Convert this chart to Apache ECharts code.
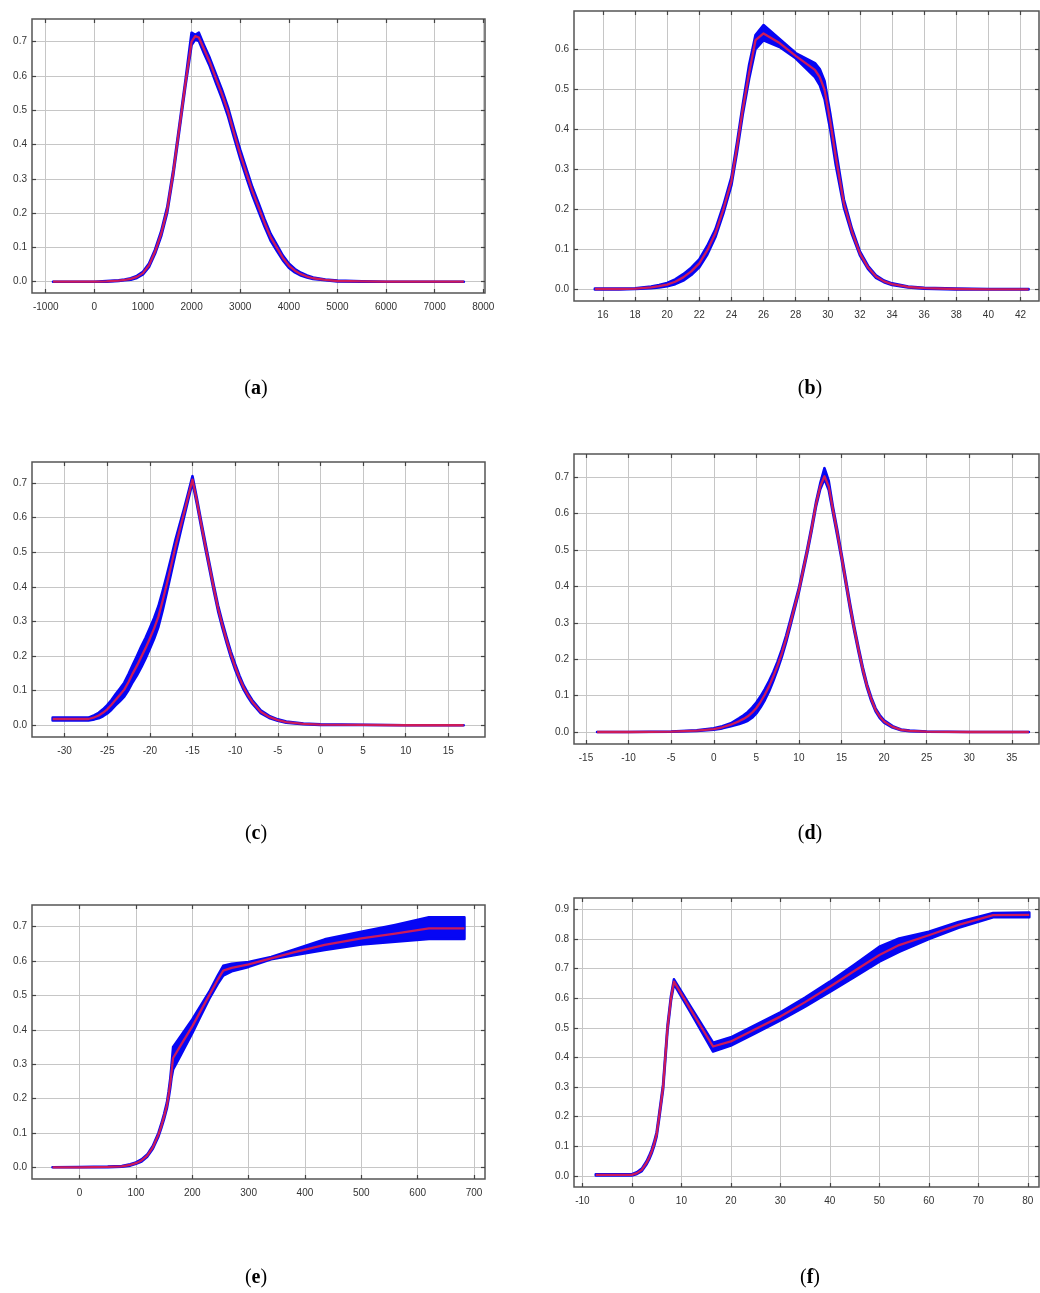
<!DOCTYPE html>
<html>
<head>
<meta charset="utf-8">
<script src="https://cdn.jsdelivr.net/npm/echarts@6/dist/echarts.min.js"></script>
<style>
html,body{margin:0;padding:0;background:#fff;}
#chart{width:1040px;height:1293px;}
</style>
</head>
<body>
<div id="chart"></div>
<script>
// ---------------- DATA ----------------
// (a)
const A_X    = [-850, -500, 0, 250, 500, 625, 750, 875, 1000, 1125, 1250, 1375, 1500, 1625, 1750, 1875, 2000, 2075, 2150, 2250, 2375, 2500, 2625, 2750, 2875, 3000, 3125, 3250, 3375, 3500, 3625, 3750, 3875, 4000, 4125, 4250, 4375, 4500, 4750, 5000, 5500, 6000, 7000, 7600];
const A_MEAN = [0, 0, 0, 0.001, 0.003, 0.005, 0.008, 0.014, 0.025, 0.048, 0.088, 0.14, 0.21, 0.32, 0.45, 0.58, 0.70, 0.716, 0.712, 0.68, 0.64, 0.593, 0.547, 0.495, 0.432, 0.372, 0.317, 0.264, 0.218, 0.172, 0.13, 0.1, 0.07, 0.047, 0.032, 0.022, 0.015, 0.01, 0.005, 0.002, 0.001, 0, 0, 0];
const A_LO   = [0, 0, 0, 0, 0.002, 0.004, 0.006, 0.011, 0.021, 0.043, 0.082, 0.133, 0.202, 0.312, 0.442, 0.572, 0.69, 0.706, 0.702, 0.668, 0.628, 0.58, 0.534, 0.482, 0.419, 0.359, 0.304, 0.252, 0.206, 0.161, 0.12, 0.091, 0.063, 0.041, 0.027, 0.018, 0.012, 0.008, 0.004, 0.001, 0, 0, 0, 0];
const A_HI   = [0, 0, 0, 0.002, 0.004, 0.006, 0.01, 0.017, 0.029, 0.053, 0.094, 0.147, 0.218, 0.328, 0.458, 0.588, 0.726, 0.72, 0.726, 0.692, 0.652, 0.606, 0.56, 0.508, 0.445, 0.385, 0.33, 0.276, 0.23, 0.183, 0.14, 0.109, 0.077, 0.053, 0.037, 0.026, 0.018, 0.012, 0.006, 0.003, 0.001, 0, 0, 0];
const A_XTICKS = [-1000, 0, 1000, 2000, 3000, 4000, 5000, 6000, 7000, 8000];
const A_YTICKS = [0, 0.1, 0.2, 0.3, 0.4, 0.5, 0.6, 0.7];

// (b)
const B_X    = [15.5, 17, 18, 19, 19.5, 20, 20.5, 21, 21.5, 22, 22.5, 23, 23.5, 24, 24.35, 24.7, 25.1, 25.5, 26, 27, 28, 29.2, 29.5, 29.8, 30.15, 30.5, 31, 31.5, 32, 32.5, 33, 33.5, 34, 35, 36, 38, 40, 42.5];
const B_MEAN = [0.001, 0.001, 0.002, 0.005, 0.008, 0.012, 0.019, 0.03, 0.045, 0.065, 0.098, 0.14, 0.2, 0.27, 0.355, 0.448, 0.54, 0.622, 0.639, 0.615, 0.583, 0.548, 0.53, 0.498, 0.42, 0.33, 0.215, 0.145, 0.09, 0.055, 0.032, 0.02, 0.013, 0.006, 0.003, 0.001, 0, 0];
const B_LO   = [0, 0, 0.001, 0.003, 0.005, 0.008, 0.013, 0.022, 0.036, 0.055, 0.087, 0.13, 0.19, 0.26, 0.343, 0.435, 0.525, 0.6, 0.622, 0.605, 0.577, 0.53, 0.51, 0.475, 0.4, 0.31, 0.205, 0.138, 0.085, 0.051, 0.029, 0.018, 0.011, 0.005, 0.002, 0, 0, 0];
const B_HI   = [0.002, 0.002, 0.003, 0.007, 0.011, 0.016, 0.025, 0.038, 0.054, 0.075, 0.109, 0.15, 0.21, 0.28, 0.367, 0.46, 0.56, 0.635, 0.66, 0.625, 0.59, 0.565, 0.55, 0.52, 0.44, 0.35, 0.225, 0.152, 0.095, 0.059, 0.035, 0.022, 0.015, 0.007, 0.004, 0.002, 0.001, 0.001];
const B_XTICKS = [16, 18, 20, 22, 24, 26, 28, 30, 32, 34, 36, 38, 40, 42];
const B_YTICKS = [0, 0.1, 0.2, 0.3, 0.4, 0.5, 0.6];

// (c)
const C_X    = [-31.4, -27.2, -26.5, -26, -25.5, -25, -24.5, -24, -23.5, -23, -22.5, -22, -21.5, -21, -20.5, -20, -19.5, -19, -18.5, -18, -17.5, -17, -16.5, -16, -15.5, -15, -14.5, -14, -13.5, -13, -12.5, -12, -11.5, -11, -10.5, -10, -9.5, -9, -8.5, -8, -7, -6, -5, -4, -2, 0, 5, 10, 16.8];
const C_MEAN = [0.018, 0.018, 0.023, 0.028, 0.036, 0.046, 0.059, 0.074, 0.088, 0.103, 0.125, 0.15, 0.173, 0.198, 0.223, 0.251, 0.28, 0.314, 0.36, 0.41, 0.462, 0.516, 0.565, 0.613, 0.662, 0.71, 0.65, 0.584, 0.52, 0.458, 0.396, 0.338, 0.29, 0.246, 0.205, 0.169, 0.137, 0.109, 0.087, 0.068, 0.039, 0.024, 0.015, 0.009, 0.004, 0.002, 0.001, 0, 0];
const C_LO   = [0.014, 0.014, 0.017, 0.02, 0.026, 0.034, 0.045, 0.058, 0.07, 0.083, 0.102, 0.125, 0.145, 0.168, 0.193, 0.221, 0.25, 0.284, 0.332, 0.385, 0.44, 0.496, 0.549, 0.601, 0.652, 0.702, 0.642, 0.576, 0.512, 0.45, 0.388, 0.33, 0.282, 0.238, 0.197, 0.161, 0.13, 0.103, 0.0815, 0.063, 0.035, 0.021, 0.013, 0.007, 0.003, 0.001, 0.001, 0, 0];
const C_HI   = [0.022, 0.022, 0.029, 0.036, 0.046, 0.058, 0.073, 0.09, 0.106, 0.123, 0.148, 0.175, 0.201, 0.228, 0.253, 0.281, 0.31, 0.344, 0.388, 0.435, 0.484, 0.536, 0.581, 0.625, 0.672, 0.72, 0.658, 0.592, 0.528, 0.466, 0.404, 0.346, 0.298, 0.254, 0.213, 0.177, 0.144, 0.115, 0.0925, 0.073, 0.043, 0.027, 0.017, 0.011, 0.005, 0.003, 0.001, 0, 0];
const C_XTICKS = [-30, -25, -20, -15, -10, -5, 0, 5, 10, 15];
const C_YTICKS = [0, 0.1, 0.2, 0.3, 0.4, 0.5, 0.6, 0.7];

// (d)
const D_X    = [-13.7, -10, -5, -2, 0, 1, 2, 3, 3.5, 4, 4.5, 5, 5.5, 6, 6.5, 7, 7.5, 8, 8.5, 9, 9.5, 10, 10.5, 11, 11.5, 12, 12.5, 13, 13.5, 14, 14.5, 15, 15.5, 16, 16.5, 17, 17.5, 18, 18.5, 19, 19.5, 20, 21, 22, 23, 25, 30, 37];
const D_MEAN = [0, 0, 0.001, 0.004, 0.008, 0.013, 0.02, 0.03, 0.036, 0.043, 0.053, 0.066, 0.083, 0.103, 0.126, 0.153, 0.183, 0.217, 0.256, 0.30, 0.345, 0.39, 0.445, 0.50, 0.56, 0.625, 0.675, 0.703, 0.675, 0.61, 0.548, 0.483, 0.414, 0.346, 0.283, 0.226, 0.172, 0.126, 0.09, 0.061, 0.042, 0.029, 0.014, 0.006, 0.003, 0.001, 0, 0];
const D_LO   = [0, 0, 0.001, 0.003, 0.006, 0.01, 0.016, 0.022, 0.026, 0.031, 0.039, 0.051, 0.068, 0.088, 0.112, 0.141, 0.172, 0.207, 0.247, 0.292, 0.338, 0.384, 0.439, 0.494, 0.554, 0.619, 0.667, 0.695, 0.665, 0.602, 0.54, 0.476, 0.407, 0.339, 0.277, 0.22, 0.166, 0.121, 0.085, 0.057, 0.038, 0.026, 0.012, 0.005, 0.002, 0.001, 0, 0];
const D_HI   = [0, 0, 0.001, 0.005, 0.01, 0.016, 0.024, 0.038, 0.046, 0.055, 0.067, 0.081, 0.098, 0.118, 0.14, 0.165, 0.194, 0.227, 0.265, 0.308, 0.352, 0.396, 0.451, 0.506, 0.566, 0.631, 0.683, 0.725, 0.69, 0.618, 0.556, 0.49, 0.421, 0.353, 0.289, 0.232, 0.178, 0.131, 0.095, 0.065, 0.046, 0.032, 0.016, 0.007, 0.004, 0.001, 0, 0];
const D_XTICKS = [-15, -10, -5, 0, 5, 10, 15, 20, 25, 30, 35];
const D_YTICKS = [0, 0.1, 0.2, 0.3, 0.4, 0.5, 0.6, 0.7];

// (e)
const E_X    = [-48, 0, 50, 75, 90, 100, 110, 120, 130, 140, 145, 150, 155, 158, 161, 163, 166, 180, 200, 215, 230, 245, 255, 270, 300, 340, 380, 435, 500, 560, 620, 683];
const E_MEAN = [0, 0, 0.001, 0.003, 0.007, 0.012, 0.02, 0.034, 0.058, 0.095, 0.12, 0.148, 0.18, 0.21, 0.245, 0.275, 0.318, 0.356, 0.41, 0.455, 0.5, 0.545, 0.572, 0.58, 0.59, 0.608, 0.625, 0.647, 0.666, 0.68, 0.695, 0.695];
const E_LO   = [0, 0, 0, 0.002, 0.005, 0.01, 0.017, 0.031, 0.054, 0.09, 0.114, 0.141, 0.172, 0.2, 0.232, 0.258, 0.285, 0.328, 0.39, 0.44, 0.49, 0.533, 0.558, 0.57, 0.583, 0.605, 0.617, 0.632, 0.648, 0.656, 0.664, 0.664];
const E_HI   = [0, 0.001, 0.002, 0.004, 0.009, 0.014, 0.023, 0.037, 0.062, 0.1, 0.126, 0.155, 0.188, 0.22, 0.258, 0.292, 0.35, 0.383, 0.43, 0.47, 0.51, 0.557, 0.586, 0.592, 0.597, 0.612, 0.633, 0.663, 0.685, 0.705, 0.727, 0.727];
const E_XTICKS = [0, 100, 200, 300, 400, 500, 600, 700];
const E_YTICKS = [0, 0.1, 0.2, 0.3, 0.4, 0.5, 0.6, 0.7];

// (f)
const F_X    = [-7.3, 0, 1, 2, 3, 3.5, 4, 4.5, 5, 5.5, 6.3, 6.75, 7.2, 7.9, 8.5, 12, 16.4, 20, 25, 30, 35, 40, 45, 50, 54, 60, 66, 73, 80.3];
const F_MEAN = [0.003, 0.003, 0.009, 0.02, 0.045, 0.062, 0.082, 0.108, 0.14, 0.2, 0.3, 0.4, 0.5, 0.6, 0.656, 0.558, 0.437, 0.454, 0.496, 0.538, 0.587, 0.639, 0.693, 0.746, 0.78, 0.813, 0.848, 0.881, 0.882];
const F_LO   = [0.001, 0.001, 0.006, 0.016, 0.04, 0.056, 0.076, 0.101, 0.133, 0.192, 0.292, 0.392, 0.492, 0.592, 0.648, 0.548, 0.42, 0.44, 0.482, 0.525, 0.572, 0.622, 0.672, 0.724, 0.757, 0.8, 0.838, 0.874, 0.874];
const F_HI   = [0.005, 0.005, 0.012, 0.024, 0.05, 0.068, 0.088, 0.115, 0.147, 0.208, 0.308, 0.408, 0.508, 0.608, 0.664, 0.568, 0.45, 0.468, 0.51, 0.552, 0.602, 0.656, 0.714, 0.774, 0.802, 0.825, 0.858, 0.888, 0.89];
const F_XTICKS = [-10, 0, 10, 20, 30, 40, 50, 60, 70, 80];
const F_YTICKS = [0, 0.1, 0.2, 0.3, 0.4, 0.5, 0.6, 0.7, 0.8, 0.9];

const PANEL_LABELS = ['a', 'b', 'c', 'd', 'e', 'f'];

// ---------------- LAYOUT / STYLE ----------------
const LAYOUT = [
  {box: [32, 19, 453, 274],  xr: [-1282, 8035],   yr: [-0.033, 0.766], lab: [256, 389]},
  {box: [574, 11, 465, 290], xr: [14.2, 43.15],   yr: [-0.029, 0.695], lab: [810, 389]},
  {box: [32, 462, 453, 275], xr: [-33.82, 19.3],  yr: [-0.034, 0.761], lab: [256, 834]},
  {box: [574, 454, 465, 290],xr: [-16.41, 38.19], yr: [-0.033, 0.764], lab: [810, 834]},
  {box: [32, 905, 453, 274], xr: [-84.4, 719.5],  yr: [-0.034, 0.763], lab: [256, 1278]},
  {box: [574, 898, 465, 289],xr: [-11.7, 82.26],  yr: [-0.038, 0.939], lab: [810, 1278]}
];
const DATA = [
  {x: A_X, m: A_MEAN, lo: A_LO, hi: A_HI, xt: A_XTICKS, yt: A_YTICKS},
  {x: B_X, m: B_MEAN, lo: B_LO, hi: B_HI, xt: B_XTICKS, yt: B_YTICKS},
  {x: C_X, m: C_MEAN, lo: C_LO, hi: C_HI, xt: C_XTICKS, yt: C_YTICKS},
  {x: D_X, m: D_MEAN, lo: D_LO, hi: D_HI, xt: D_XTICKS, yt: D_YTICKS},
  {x: E_X, m: E_MEAN, lo: E_LO, hi: E_HI, xt: E_XTICKS, yt: E_YTICKS},
  {x: F_X, m: F_MEAN, lo: F_LO, hi: F_HI, xt: F_XTICKS, yt: F_YTICKS}
];

const BLUE = '#0606f4';
const RED = '#cc1a5a';
const GRIDC = '#c6c6c6';
const FRAME = '#555555';
const TEXTC = '#333333';
const FONT = 'Liberation Sans';

const grid = [], xAxis = [], yAxis = [], series = [], graphic = [];

DATA.forEach((d, i) => {
  const L = LAYOUT[i];
  grid.push({
    left: L.box[0], top: L.box[1], width: L.box[2], height: L.box[3],
    show: true, borderColor: FRAME, borderWidth: 1.5, backgroundColor: '#fff'
  });
  const tickStyle = {color: '#444', width: 1.2};
  const noLine = {show: false, onZero: false};
  // bottom x
  xAxis.push({
    type: 'value', gridIndex: i, position: 'bottom', min: L.xr[0], max: L.xr[1],
    axisLine: noLine,
    axisTick: {show: true, inside: true, length: 4, customValues: d.xt, lineStyle: tickStyle},
    axisLabel: {show: true, customValues: d.xt, margin: 9, fontSize: 10, fontFamily: FONT, color: TEXTC,
                formatter: v => String(v)},
    splitLine: {show: true, lineStyle: {color: GRIDC, width: 1}}
  });
  // top x
  xAxis.push({
    type: 'value', gridIndex: i, position: 'top', min: L.xr[0], max: L.xr[1],
    axisLine: noLine,
    axisTick: {show: true, inside: true, length: 4, customValues: d.xt, lineStyle: tickStyle},
    axisLabel: {show: false}, splitLine: {show: false}
  });
  // left y
  yAxis.push({
    type: 'value', gridIndex: i, position: 'left', min: L.yr[0], max: L.yr[1],
    axisLine: noLine,
    axisTick: {show: true, inside: true, length: 4, customValues: d.yt, lineStyle: tickStyle},
    axisLabel: {show: true, customValues: d.yt, margin: 5, fontSize: 10, fontFamily: FONT, color: TEXTC,
                formatter: v => Number(v).toFixed(1)},
    splitLine: {show: true, lineStyle: {color: GRIDC, width: 1}}
  });
  // right y
  yAxis.push({
    type: 'value', gridIndex: i, position: 'right', min: L.yr[0], max: L.yr[1],
    axisLine: noLine,
    axisTick: {show: true, inside: true, length: 4, customValues: d.yt, lineStyle: tickStyle},
    axisLabel: {show: false}, splitLine: {show: false}
  });

  // uncertainty band (blue)
  series.push({
    type: 'custom', xAxisIndex: 2 * i, yAxisIndex: 2 * i, silent: true, z: 2,
    data: d.x.map((xv, j) => [xv, d.lo[j], d.hi[j]]),
    encode: {x: 0, y: [1, 2]},
    renderItem: function (params, api) {
      if (params.dataIndexInside !== 0) return null;
      const n = params.dataInsideLength;
      const pts = [];
      for (let j = 0; j < n; j++) pts.push(api.coord([api.value(0, j), api.value(2, j)]));
      for (let j = n - 1; j >= 0; j--) pts.push(api.coord([api.value(0, j), api.value(1, j)]));
      return {
        type: 'polygon',
        shape: {points: pts},
        style: {fill: BLUE, stroke: BLUE, lineWidth: 2.6, lineJoin: 'round'}
      };
    }
  });
  // mean curve (red)
  series.push({
    type: 'line', xAxisIndex: 2 * i, yAxisIndex: 2 * i, z: 3, silent: true,
    data: d.x.map((xv, j) => [xv, d.m[j]]),
    symbol: 'none', smooth: false,
    lineStyle: {color: RED, width: 2.3, join: 'round'}
  });

  graphic.push({
    type: 'text', x: L.lab[0], y: L.lab[1],
    style: {
      text: '{p|(}{b|' + PANEL_LABELS[i] + '}{p|)}',
      rich: {
        p: {fontSize: 20, fontFamily: 'Liberation Serif', fill: '#000'},
        b: {fontSize: 20, fontFamily: 'Liberation Serif', fontWeight: 'bold', fill: '#000'}
      },
      align: 'center', verticalAlign: 'middle',
      textAlign: 'center', textVerticalAlign: 'middle'
    }
  });
});

const chart = echarts.init(document.getElementById('chart'), null, {renderer: 'canvas'});
chart.setOption({
  backgroundColor: '#ffffff',
  animation: false,
  grid, xAxis, yAxis, series, graphic
});
</script>
</body>
</html>
